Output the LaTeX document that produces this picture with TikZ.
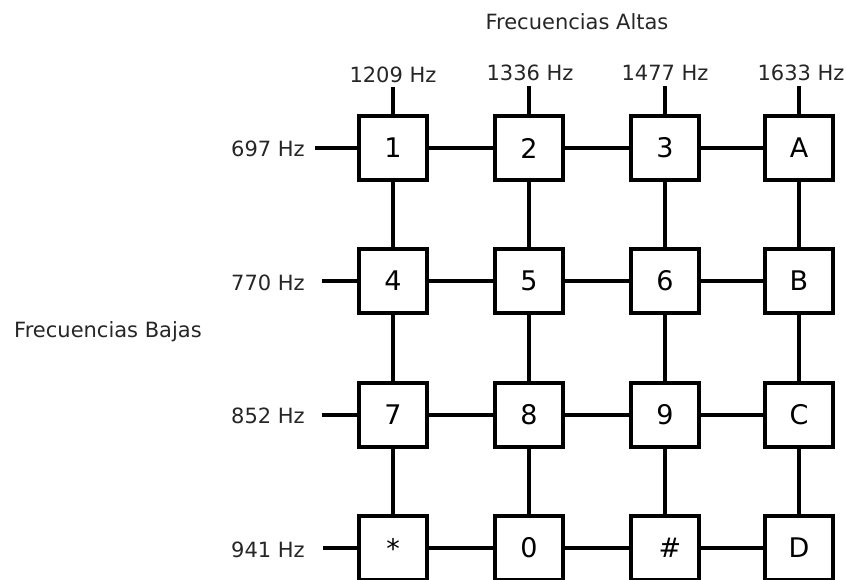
\documentclass[tikz,border=0pt]{standalone}
\usepackage{fontspec}
\setmainfont{DejaVu Sans}
\begin{document}
\begin{tikzpicture}[x=1pt,y=-1pt,
  key/.style={draw=black,line width=3.2pt,fill=white,minimum width=68pt,minimum height=64pt,inner sep=0pt,font=\fontsize{27}{31}\selectfont},
  lbl/.style={inner sep=0pt,text=black!85,font=\fontsize{21}{25}\selectfont},
  wire/.style={line width=3.2pt}]
\useasboundingbox (0,0) rectangle (846,579);
% titles
\node[lbl] (ht) at (577,22) {Frecuencias Altas};
\node[lbl] (bj) at (108,332) {Frecuencias Bajas};
% column labels
\node[lbl] (c1) at (393,75) {1209 Hz};
\node[lbl] (c2) at (530,73) {1336 Hz};
\node[lbl] (c3) at (665,73) {1477 Hz};
\node[lbl] (c4) at (801,73) {1633 Hz};
\coordinate (t1) at (393,87);
\coordinate (t2) at (529,86);
\coordinate (t3) at (665,86);
\coordinate (t4) at (799,86);
% row labels
\node[lbl,anchor=east] (r1) at (305,149) {697 Hz};
\node[lbl,anchor=east] (r2) at (305,283) {770 Hz};
\node[lbl,anchor=east] (r3) at (305,416) {852 Hz};
\node[lbl,anchor=east] (r4) at (305,550) {941 Hz};
\coordinate (l1) at (315,148);
\coordinate (l2) at (322,281);
\coordinate (l3) at (322,415);
\coordinate (l4) at (323,548);
% keys
\node[key] (k1) at (393,148) {1};
\node[key] (k2) at (529,148) {2};
\node[key] (k3) at (665,148) {3};
\node[key] (kA) at (799,148) {A};
\node[key] (k4) at (393,281) {4};
\node[key] (k5) at (529,281) {5};
\node[key] (k6) at (665,281) {6};
\node[key] (kB) at (799,281) {B};
\node[key] (k7) at (393,415) {7};
\node[key] (k8) at (529,415) {8};
\node[key] (k9) at (665,415) {9};
\node[key] (kC) at (799,415) {C};
\node[key] (ks) at (393,548) {\raisebox{-6pt}{*}};
\node[key] (k0) at (529,548) {0};
\node[key] (kh) at (665,548) {\hspace{10pt}\#};
\node[key] (kD) at (799,548) {D};
% wires
\draw[wire] (t1) -- (k1.north);
\draw[wire] (t2) -- (k2.north);
\draw[wire] (t3) -- (k3.north);
\draw[wire] (t4) -- (kA.north);
\draw[wire] (l1) -- (k1.west);
\draw[wire] (l2) -- (k4.west);
\draw[wire] (l3) -- (k7.west);
\draw[wire] (l4) -- (ks.west);
\draw[wire] (k1) -- (k2); \draw[wire] (k2) -- (k3); \draw[wire] (k3) -- (kA);
\draw[wire] (k4) -- (k5); \draw[wire] (k5) -- (k6); \draw[wire] (k6) -- (kB);
\draw[wire] (k7) -- (k8); \draw[wire] (k8) -- (k9); \draw[wire] (k9) -- (kC);
\draw[wire] (ks) -- (k0); \draw[wire] (k0) -- (kh); \draw[wire] (kh) -- (kD);
\draw[wire] (k1) -- (k4); \draw[wire] (k4) -- (k7); \draw[wire] (k7) -- (ks);
\draw[wire] (k2) -- (k5); \draw[wire] (k5) -- (k8); \draw[wire] (k8) -- (k0);
\draw[wire] (k3) -- (k6); \draw[wire] (k6) -- (k9); \draw[wire] (k9) -- (kh);
\draw[wire] (kA) -- (kB); \draw[wire] (kB) -- (kC); \draw[wire] (kC) -- (kD);
\end{tikzpicture}
\end{document}
